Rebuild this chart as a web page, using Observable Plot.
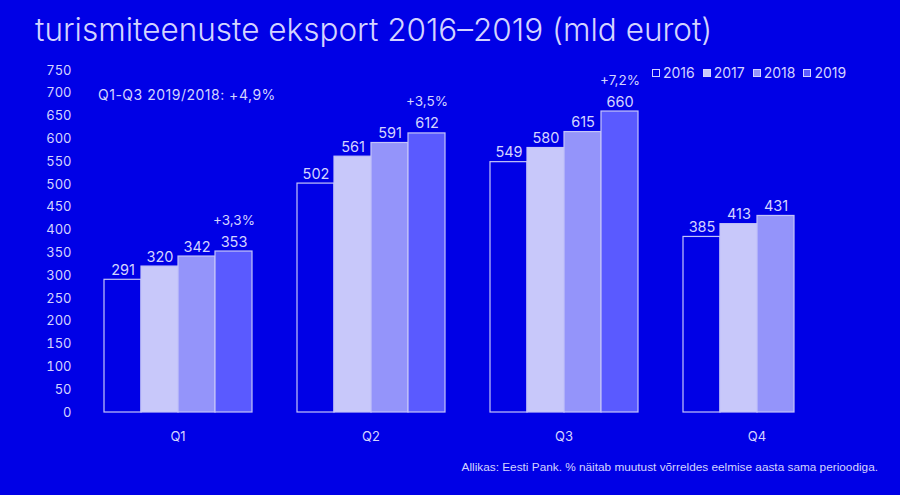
<!DOCTYPE html>
<html>
<head>
<meta charset="utf-8">
<script src="https://cdn.jsdelivr.net/npm/d3@7"></script>
<script src="https://cdn.jsdelivr.net/npm/@observablehq/plot@0.6"></script>
<style>
  html, body { margin: 0; padding: 0; background: #0000e6; }
  #wrap { position: relative; width: 900px; height: 495px; overflow: hidden; font-family: Inter, "Open Sans", sans-serif; color: #d4d4ff; }
  #title { position: absolute; left: 35px; top: 10px; font-size: 31.5px; font-weight: 300; white-space: nowrap; }
  #note { position: absolute; left: 98px; top: 86px; font-size: 14px; letter-spacing: 0.5px; white-space: nowrap; }
  #caption { position: absolute; right: 22px; top: 460px; font-size: 11.8px; font-family: "Liberation Sans", Arial, sans-serif; white-space: nowrap; }
  #legend { position: absolute; left: 652px; top: 64px; font-size: 14px; display: flex; gap: 8px; white-space: nowrap; }
  #legend span.item { display: inline-flex; align-items: center; gap: 3px; }
  #legend i { display: inline-block; width: 8px; height: 8px; border: 1px solid #d4d4ff; box-sizing: border-box; }
  #chart { position: absolute; left: 0; top: 0; }
</style>
</head>
<body>
<div id="wrap">
  <div id="chart"></div>
  <div id="title"></div>
  <div id="note"></div>
  <div id="legend"></div>
  <div id="caption"></div>
</div>
<script>
const titleText = "turismiteenuste eksport 2016–2019 (mld eurot)";
const noteText = "Q1-Q3 2019/2018: +4,9%";
const captionText = "Allikas: Eesti Pank. % näitab muutust võrreldes eelmise aasta sama perioodiga.";

const quarters = ["Q1", "Q2", "Q3", "Q4"];
const years = ["2016", "2017", "2018", "2019"];
const v2016 = [291, 502, 549, 385];
const v2017 = [320, 561, 580, 413];
const v2018 = [342, 591, 615, 431];
const v2019 = [353, 612, 660, null];
const changes = ["+3,3%", "+3,5%", "+7,2%", null];
const yTicks = [0, 50, 100, 150, 200, 250, 300, 350, 400, 450, 500, 550, 600, 650, 700, 750];

const colors = ["#0000e6", "#c8c8fa", "#9494fa", "#5a5aff"];
const textColor = "#d4d4ff";

const series = [v2016, v2017, v2018, v2019];
const data = [];
quarters.forEach((q, qi) => {
  years.forEach((yr, yi) => {
    const v = series[yi][qi];
    if (v != null) data.push({q, year: yr, value: v});
  });
});
const pct = [];
quarters.forEach((q, qi) => {
  if (changes[qi] != null) pct.push({q, year: "2019", value: v2019[qi], text: changes[qi]});
});

document.getElementById("title").textContent = titleText;
document.getElementById("note").textContent = noteText;
document.getElementById("caption").textContent = captionText;
const legend = document.getElementById("legend");
years.forEach((yr, i) => {
  const s = document.createElement("span");
  s.className = "item";
  const sw = document.createElement("i");
  sw.style.background = colors[i];
  s.appendChild(sw);
  s.appendChild(document.createTextNode(yr));
  legend.appendChild(s);
});

const chart = Plot.plot({
  width: 900,
  height: 495,
  marginLeft: 80,
  marginRight: 46,
  marginTop: 70,
  marginBottom: 83,
  style: {background: "transparent", color: textColor, fontSize: "13px", fontFamily: "Inter, 'Open Sans', sans-serif"},
  fx: {domain: quarters, paddingInner: 0.23, paddingOuter: 0.115, axis: "bottom", tickSize: 0, tickPadding: 19, label: null},
  x: {domain: years, padding: 0, axis: null},
  y: {domain: [0, 750], ticks: yTicks, tickSize: 0, tickPadding: 32, label: null},
  color: {domain: years, range: colors},
  marks: [
    Plot.barY(data, {fx: "q", x: "year", y: "value", fill: "year", stroke: "#c4c4f8", strokeWidth: 1.2}),
    Plot.text(data, {fx: "q", x: "year", y: "value", text: d => String(d.value), lineAnchor: "bottom", dy: -5, fill: textColor, fontSize: 14.5}),
    Plot.text(pct, {fx: "q", x: "year", y: "value", text: "text", lineAnchor: "bottom", dy: -27, fill: textColor, fontSize: 13.5})
  ]
});
document.getElementById("chart").appendChild(chart);
</script>
</body>
</html>
